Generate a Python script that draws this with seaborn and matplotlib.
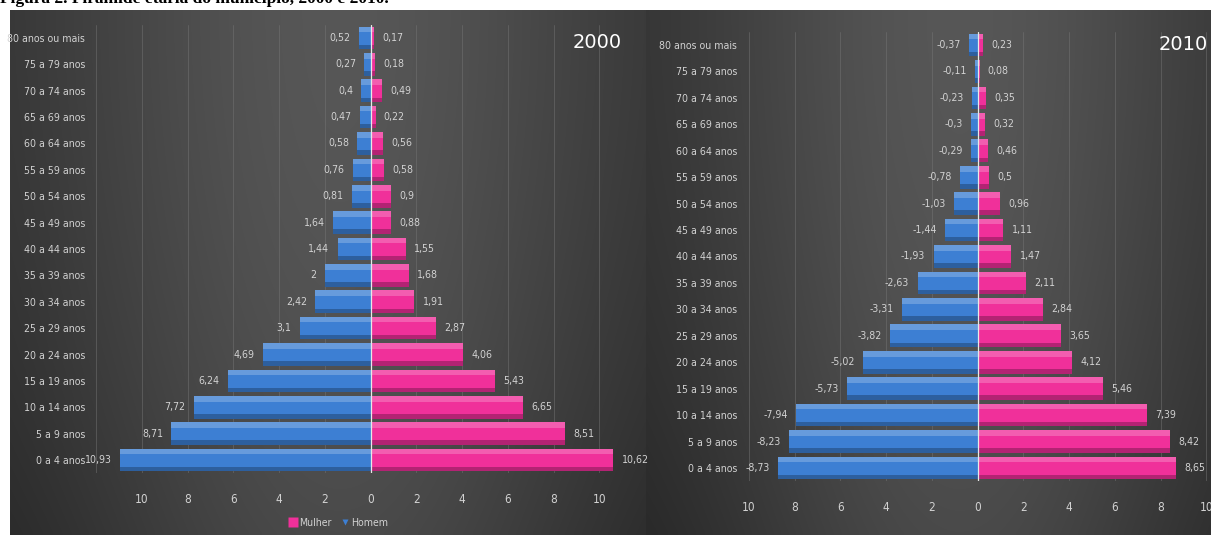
import numpy as np
import pandas as pd
import matplotlib
matplotlib.use("Agg")
import matplotlib.pyplot as plt
import matplotlib.patches as mpatches
from matplotlib.lines import Line2D
import seaborn as sns

# ---------------- data ----------------
faixas = ["0 a 4 anos", "5 a 9 anos", "10 a 14 anos", "15 a 19 anos", "20 a 24 anos",
          "25 a 29 anos", "30 a 34 anos", "35 a 39 anos", "40 a 44 anos", "45 a 49 anos",
          "50 a 54 anos", "55 a 59 anos", "60 a 64 anos", "65 a 69 anos", "70 a 74 anos",
          "75 a 79 anos", "80 anos ou mais"]
homem_2000 = [10.93, 8.71, 7.72, 6.24, 4.69, 3.1, 2.42, 2, 1.44, 1.64, 0.81, 0.76, 0.58, 0.47, 0.4, 0.27, 0.52]
mulher_2000 = [10.62, 8.51, 6.65, 5.43, 4.06, 2.87, 1.91, 1.68, 1.55, 0.88, 0.9, 0.58, 0.56, 0.22, 0.49, 0.18, 0.17]
homem_2010 = [-8.73, -8.23, -7.94, -5.73, -5.02, -3.82, -3.31, -2.63, -1.93, -1.44, -1.03, -0.78, -0.29, -0.3, -0.23, -0.11, -0.37]
mulher_2010 = [8.65, 8.42, 7.39, 5.46, 4.12, 3.65, 2.84, 2.11, 1.47, 1.11, 0.96, 0.5, 0.46, 0.32, 0.35, 0.08, 0.23]
x_ticks = [-10, -8, -6, -4, -2, 0, 2, 4, 6, 8, 10]

# ---------------- style ----------------
sns.set_theme(style="dark")
FONT = ["DejaVu Sans"]
plt.rcParams["font.family"] = FONT
plt.rcParams["font.stretch"] = "condensed"
TXT = "#d2d2d2"
BLUE = "#3d7fd3"
PINK = "#f0309a"
FS = 7.6

W, H = 1211, 535
fig = plt.figure(figsize=(W / 100, H / 100), dpi=100, facecolor="white")

# background gradients for the two panels
bg = fig.add_axes([0, 0, 1, 1], zorder=-10)
bg.axis("off")
def panel_bg(x0, x1, y0, y1, cx):
    xs = np.linspace(x0, x1, 300)
    ys = np.linspace(y0, y1, 120)
    X, Y = np.meshgrid(xs, ys)
    v = 0.18 + 0.16 * np.exp(-((X - cx) / ((x1 - x0) * 0.45)) ** 2)
    v -= 0.05 * ((Y - y0) / (y1 - y0)) ** 2
    img = np.dstack([v, v, v])
    bg.imshow(img, extent=[x0, x1, y1, y0], aspect="auto", interpolation="bilinear")
panel_bg(10, 646, 10, H, 340)
panel_bg(646, W, 10, H, 960)
bg.set_xlim(0, W)
bg.set_ylim(H, 0)

fig.text(0.0, 1 - 3 / H, "Figura 2. Pirâmide etária do município, 2000 e 2010.",
         family=["Liberation Serif", "DejaVu Serif"], fontsize=12.5, fontweight="bold",
         fontstretch="normal", color="black", va="baseline", ha="left")

def fmt(v):
    return f"{v:g}".replace(".", ",")

def draw(ax, homem_plot, homem_lbl, mulher, xlim, ytick_pad, title, grid_x):
    order = faixas[::-1]
    df = pd.DataFrame({
        "faixa": faixas * 2,
        "valor": list(homem_plot) + list(mulher),
        "sexo": ["Homem"] * len(faixas) + ["Mulher"] * len(faixas),
    })
    sns.barplot(data=df, x="valor", y="faixa", hue="sexo", order=order,
                hue_order=["Homem", "Mulher"], palette={"Homem": BLUE, "Mulher": PINK},
                dodge=False, width=0.86, orient="h", ax=ax, legend=False,
                edgecolor="none", saturation=1)
    # bevel highlight
    for p in list(ax.patches):
        x, y = p.get_x(), p.get_y()
        w, h = p.get_width(), p.get_height()
        ax.add_patch(mpatches.Rectangle((x, y), w, h * 0.25, color="white", alpha=0.22, lw=0, zorder=3))
        ax.add_patch(mpatches.Rectangle((x, y + h * 0.80), w, h * 0.20, color="black", alpha=0.25, lw=0, zorder=3))
    ax.set_facecolor((0, 0, 0, 0))
    ax.set_xlim(*xlim)
    ax.set_ylim(len(faixas) - 0.5, -0.5)
    for gx in grid_x:
        ax.axvline(gx, color="#777777", lw=0.6, alpha=0.55, zorder=0)
    ax.axvline(0, color="#e8e8e8", lw=0.9, zorder=4)
    ax.set_xticks(x_ticks)
    ax.set_xticklabels([fmt(abs(t)) for t in x_ticks])
    ax.tick_params(axis="x", colors=TXT, labelsize=8.5, length=0, pad=14)
    ax.tick_params(axis="y", colors=TXT, labelsize=FS, length=0, pad=ytick_pad)
    ax.set_xlabel("")
    ax.set_ylabel("")
    for s in ax.spines.values():
        s.set_visible(False)
    ax.grid(False)
    for i, f in enumerate(faixas):
        yi = order.index(f)
        ax.annotate(homem_lbl[i], (homem_plot[i], yi), xytext=(-6, 0), textcoords="offset points",
                    ha="right", va="center", color=TXT, fontsize=FS, zorder=5)
        ax.annotate(fmt(mulher[i]), (mulher[i], yi), xytext=(6, 0), textcoords="offset points",
                    ha="left", va="center", color=TXT, fontsize=FS, zorder=5)
    ax.text(title[0], title[1], title[2], color="white", fontsize=14, fontstretch="normal",
            ha=title[3], va="center", transform=ax.transAxes, zorder=6)

# left panel (2000)
ax1 = fig.add_axes([96 / W, 1 - 473.2 / H, 549 / W, (473.2 - 24.8) / H])
draw(ax1, [-v for v in homem_2000], [fmt(v) for v in homem_2000], mulher_2000,
     (-12, 12), 8, ((597 - 96) / 549, 1 - (43 - 24.8) / (473.2 - 24.8), "2000", "center"),
     list(range(-12, 13, 2)))

# right panel (2010)
x0r = 978 - 10.3 * 22.9
ax2 = fig.add_axes([x0r / W, 1 - 481.2 / H, (W - x0r) / W, (481.2 - 31.8) / H])
draw(ax2, homem_2010, [fmt(v) for v in homem_2010], mulher_2010,
     (-10.3, 10.2), 3.6, ((1208 - x0r) / (W - x0r), 1 - (45 - 31.8) / (481.2 - 31.8), "2010", "right"),
     list(range(-10, 11, 2)))

handles = [Line2D([0], [0], marker="s", color="none", markerfacecolor=PINK, markeredgecolor="none", markersize=7),
           Line2D([0], [0], marker="v", color="none", markerfacecolor=BLUE, markeredgecolor="none", markersize=5)]
fig.legend(handles, ["Mulher", "Homem"], loc="center", bbox_to_anchor=(338 / W, 1 - 523 / H),
           ncol=2, frameon=False, labelcolor=TXT, handletextpad=0.1,
           columnspacing=0.8, handlelength=1.0, prop={"size": FS, "stretch": "condensed"})

fig.savefig("out.png", dpi=100, facecolor="white")
